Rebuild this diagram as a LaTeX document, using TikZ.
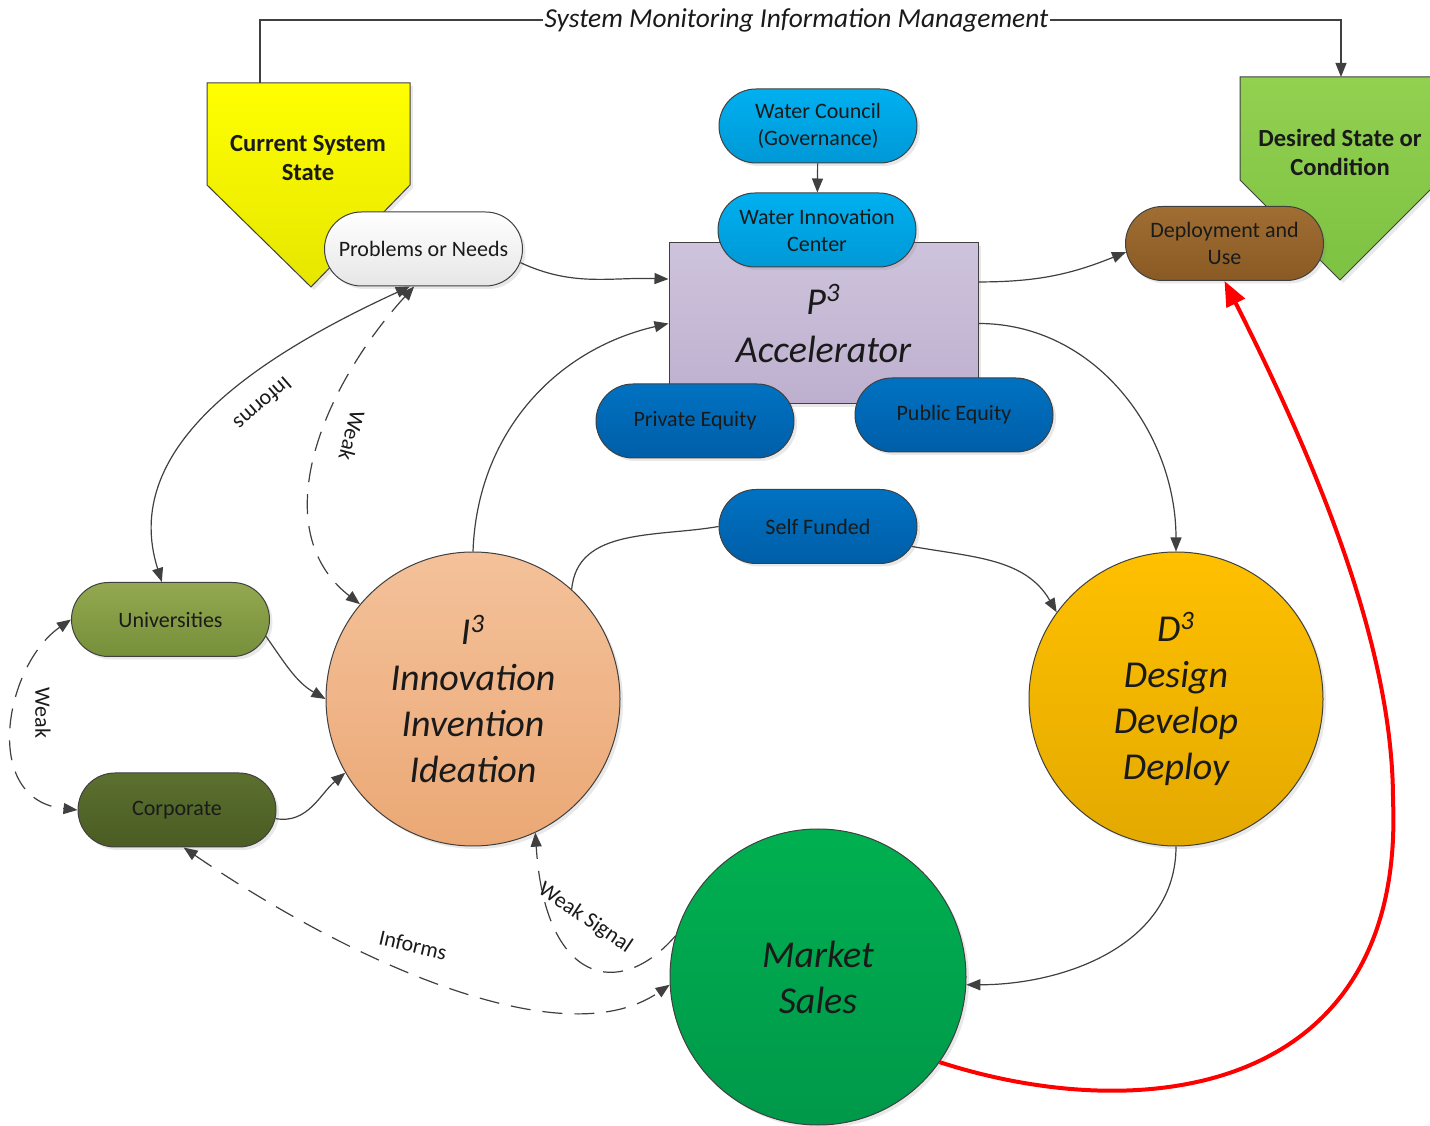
\documentclass[tikz,border=0pt]{standalone}
\usepackage{fontspec}
\setmainfont{Carlito}
\usetikzlibrary{arrows.meta,shapes.misc,shadows}
\definecolor{lineg}{HTML}{404040}
\definecolor{txt}{HTML}{1A1A1A}
\definecolor{yelT}{HTML}{FFFF00}
\definecolor{yelB}{HTML}{E6E600}
\definecolor{grnT}{HTML}{92D050}
\definecolor{grnB}{HTML}{7DC242}
\definecolor{wbT}{HTML}{00B0F0}
\definecolor{wbB}{HTML}{0098D6}
\definecolor{dbT}{HTML}{0072C2}
\definecolor{dbB}{HTML}{005EA8}
\definecolor{lavT}{HTML}{CEC3DC}
\definecolor{lavB}{HTML}{BDB0CF}
\definecolor{prT}{HTML}{FFFFFF}
\definecolor{prB}{HTML}{E6E6E6}
\definecolor{brT}{HTML}{A06E33}
\definecolor{brB}{HTML}{8A5A24}
\definecolor{unT}{HTML}{93A850}
\definecolor{unB}{HTML}{768F3A}
\definecolor{coT}{HTML}{5C7030}
\definecolor{coB}{HTML}{4A5C22}
\definecolor{peT}{HTML}{F4C19A}
\definecolor{peB}{HTML}{EBA875}
\definecolor{goT}{HTML}{FFC000}
\definecolor{goB}{HTML}{E3A900}
\definecolor{msT}{HTML}{00B050}
\definecolor{msB}{HTML}{00984A}
\definecolor{redl}{HTML}{FF0000}
\begin{document}
\begin{tikzpicture}[x=0.5pt,y=0.5pt,
  >={Triangle[length=7pt,width=5.5pt]},
  conn/.style={draw=lineg, line width=0.6pt},
  dashconn/.style={draw=lineg, line width=0.6pt, dash pattern=on 10pt off 6pt},
  shad/.style={drop shadow={opacity=0.18, shadow xshift=1.5pt, shadow yshift=-1.5pt}},
  pill/.style={rounded rectangle, draw=lineg, line width=0.5pt, minimum width=103pt,
    minimum height=37pt, inner xsep=2pt, align=center, text=txt,
    font=\fontsize{11}{13.5}\selectfont, shad},
  bigc/.style={circle, draw=lineg, line width=0.5pt, minimum size=147pt, inner sep=0pt,
    align=center, text=txt, font=\fontsize{19}{23}\selectfont\itshape, shad},
  lbl/.style={font=\fontsize{11}{13}\selectfont, text=txt, inner sep=1pt},
  boldlbl/.style={font=\fontsize{12.3}{14.5}\selectfont\bfseries, text=txt, align=center}
]
\useasboundingbox (0,0) rectangle (1430,1125);
\clip (0,0) rectangle (1430,1125);
\fill[white] (0,0) rectangle (1430,1125);

% pentagon arrows
\shade[top color=yelT, bottom color=yelB, draw=lineg, line width=0.5pt, shad]
  (207,1042) -- (410,1042) -- (410,940) -- (311,838) -- (207,940) -- cycle;
\node[boldlbl] (curtxt) at (308,967) {Current System\\State};
\coordinate (curtop) at (260,1042);
\shade[top color=grnT, bottom color=grnB, draw=lineg, line width=0.5pt, shad]
  (1240,1048) -- (1440,1048) -- (1440,945) -- (1340,845) -- (1240,945) -- cycle;
\node[boldlbl] (destxt) at (1340,973) {Desired State or\\Condition};
\coordinate (destop) at (1341,1048);

% top monitoring connector
\coordinate (topL) at (260,1105);
\coordinate (topR) at (1341,1105);
\draw[conn,->] (curtop) -- (topL) -- node[fill=white, inner xsep=1pt, inner ysep=0pt,
   font=\fontsize{13.7}{16}\selectfont\itshape, text=txt, xshift=-2pt] (monlbl) {System Monitoring Information Management}
   (topR) -- (destop);

% accelerator
\node[draw=lineg, line width=0.5pt, top color=lavT, bottom color=lavB, minimum width=154.5pt,
  minimum height=80.5pt, align=center, text=txt, font=\fontsize{19}{24}\selectfont\itshape, shad]
  (p3) at (823.5,801.5) {P\textsuperscript{3}\\Accelerator};

\node[pill, top color=wbT, bottom color=wbB] (wc) at (818,999) {Water Council\\(Governance)};
\node[pill, top color=wbT, bottom color=wbB] (wic) at (817,895) {Water Innovation\\Center};
\node[pill, top color=dbT, bottom color=dbB] (prive) at (695,704) {Private Equity};
\node[pill, top color=dbT, bottom color=dbB] (pube) at (954,710) {Public Equity};
\node[pill, top color=dbT, bottom color=dbB] (sf) at (818,598.5) {Self Funded};
\node[pill, top color=prT, bottom color=prB] (prob) at (423.5,876) {Problems or Needs};
\node[pill, top color=brT, bottom color=brB] (dep) at (1224.5,881.5) {Deployment and\\Use};
\node[pill, top color=unT, bottom color=unB] (univ) at (170.5,505.5) {Universities};
\node[pill, top color=coT, bottom color=coB] (corp) at (177,315) {Corporate};

\node[bigc, top color=peT, bottom color=peB] (i3) at (473,426) {I\textsuperscript{3}\\Innovation\\Invention\\Ideation};
\node[bigc, top color=goT, bottom color=goB] (d3) at (1176,426) {D\textsuperscript{3}\\Design\\Develop\\Deploy};
\node[bigc, minimum size=148pt, top color=msT, bottom color=msB] (ms) at (818,148) {Market\\Sales};

% connectors
\draw[conn,->] (wc) -- (wic);
\draw[conn,->] (prob.-8) to[out=-25,in=178] (p3.164);
\draw[conn,->] (p3.15.4) to[out=0,in=202] (dep.185);
\draw[conn,->] (p3.east) to[out=0,in=90] (d3.north);
\draw[conn,->] (i3.north) to[out=88,in=193] (p3.west);
\draw[conn] (i3.48) to[out=85,in=190] (sf.west);
\draw[conn,->] (sf.-12) to[out=-10,in=120] (d3.144);
\draw[conn,->] (d3.south) to[out=-90,in=0] (ms.-3);
\draw[conn,->] (univ.-10) to[out=-55,in=150] (i3.west);
\draw[conn,->] (corp.-5) to[out=-10,in=220] (i3.210);

\draw[conn,<->] (prob.-110) .. controls (250,765) and (120,675) .. (univ.103);
\draw[dashconn,<->] (prob.-104) .. controls (320,735) and (265,595) .. (i3.140);
\draw[dashconn,<->] (univ.west) .. controls (5,460) and (-20,325) .. (corp.west);
\draw[dashconn,<->] (corp.-80) .. controls (340,170) and (560,65) .. (ms.183);
\draw[dashconn,->] (ms.164) .. controls (620,125) and (545,140) .. (i3.-65);

% red connector
\coordinate (rmid) at (1393,325);
\draw[draw=redl, line width=2pt, -{Triangle[length=12.5pt,width=10pt]}]
  (ms.-35) .. controls (1150,-5) and (1405,35) .. (rmid)
  .. controls (1393,475) and (1320,655) .. (dep.south);

% labels
\node[lbl, rotate=-139] (linf1) at (263,721) {Informs};
\node[lbl, rotate=-105] (lweak1) at (352,689) {Weak};
\node[lbl, rotate=-90] (lweak2) at (43,412) {Weak};
\node[lbl, rotate=-13] (linf2) at (413,180) {Informs};
\node[lbl, rotate=-34] (lws) at (585,207) {Weak Signal};
\end{tikzpicture}
\end{document}
